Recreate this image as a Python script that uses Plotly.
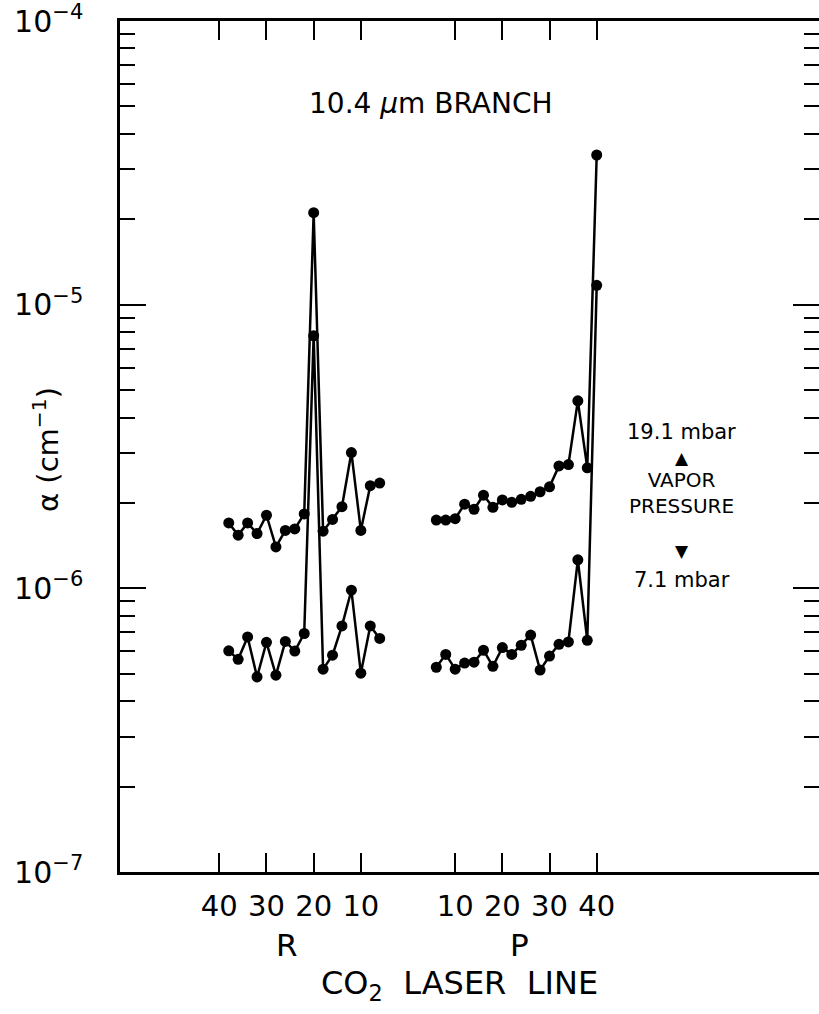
import plotly.graph_objects as go

# CO2 laser lines (10.4 um branch)
r_lines = [38, 36, 34, 32, 30, 28, 26, 24, 22, 20, 18, 16, 14, 12, 10, 8, 6]
p_lines = [6, 8, 10, 12, 14, 16, 18, 20, 22, 24, 26, 28, 30, 32, 34, 36, 38, 40]

# absorption coefficient alpha (cm^-1), 19.1 mbar
upper_r = [1.70e-6, 1.54e-6, 1.70e-6, 1.56e-6, 1.81e-6, 1.40e-6, 1.60e-6, 1.62e-6, 1.83e-6,
           2.11e-5, 1.59e-6, 1.75e-6, 1.94e-6, 3.01e-6, 1.60e-6, 2.30e-6, 2.35e-6]
upper_p = [1.74e-6, 1.74e-6, 1.76e-6, 1.98e-6, 1.90e-6, 2.13e-6, 1.93e-6, 2.05e-6, 2.01e-6,
           2.06e-6, 2.11e-6, 2.19e-6, 2.28e-6, 2.70e-6, 2.73e-6, 4.58e-6, 2.66e-6, 3.37e-5]
# 7.1 mbar
lower_r = [6.02e-7, 5.62e-7, 6.74e-7, 4.87e-7, 6.45e-7, 4.94e-7, 6.50e-7, 6.01e-7, 6.93e-7,
           7.77e-6, 5.19e-7, 5.81e-7, 7.37e-7, 9.85e-7, 5.02e-7, 7.37e-7, 6.66e-7]
lower_p = [5.27e-7, 5.85e-7, 5.19e-7, 5.45e-7, 5.49e-7, 6.05e-7, 5.31e-7, 6.18e-7, 5.85e-7,
           6.30e-7, 6.84e-7, 5.15e-7, 5.77e-7, 6.35e-7, 6.47e-7, 1.26e-6, 6.56e-7, 1.17e-5]

x_tick_lines = [-40, -30, -20, -10, 10, 20, 30, 40]
x_tick_text = ["40", "30", "20", "10", "10", "20", "30", "40"]
y_major = [1e-7, 1e-6, 1e-5, 1e-4]
y_major_text = ["10<sup>−7</sup>", "10<sup>−6</sup>", "10<sup>−5</sup>", "10<sup>−4</sup>"]
y_minor = [m * 10.0 ** e for e in (-7, -6, -5) for m in range(2, 10)]

FONT = "DejaVu Sans"
fig = go.Figure()

r_x = [-j for j in r_lines]
p_x = [j for j in p_lines]
for xs, ys in ((r_x, upper_r), (r_x, lower_r), (p_x, upper_p), (p_x, lower_p)):
    fig.add_trace(go.Scatter(
        x=xs, y=ys, mode="lines+markers",
        line=dict(color="black", width=2.5),
        marker=dict(color="black", size=11),
        showlegend=False, hoverinfo="skip"))

fig.update_layout(
    width=819, height=1014,
    margin=dict(l=120, r=0, t=21, b=142, autoexpand=False),
    paper_bgcolor="white", plot_bgcolor="white",
    font=dict(family=FONT, color="black"),
    showlegend=False,
)

fig.update_xaxes(
    range=[-61.05, 87.12], automargin=False, ticklabeloverflow="allow",
    tickmode="array", tickvals=x_tick_lines, ticktext=x_tick_text,
    ticks="inside", ticklen=19, tickwidth=2.2, tickcolor="black",
    showline=True, linecolor="black", linewidth=2.5, mirror="allticks",
    showgrid=False, zeroline=False,
    tickfont=dict(size=29, family=FONT), ticklabelstandoff=6,
)
fig.update_yaxes(
    type="log", range=[-7, -4], automargin=False, ticklabeloverflow="allow",
    tickmode="array", tickvals=y_major, ticktext=y_major_text,
    ticks="inside", ticklen=26, tickwidth=2.2, tickcolor="black",
    minor=dict(tickmode="array", tickvals=y_minor, ticks="inside", ticklen=15,
               tickwidth=2.2, tickcolor="black", showgrid=False),
    showline=True, linecolor="black", linewidth=2.5, mirror="allticks",
    showgrid=False, zeroline=False,
    tickfont=dict(size=30, family=FONT), ticklabelstandoff=28,
)

H = 851.0
W = 699.0
def py(ypx):
    return (872.0 - ypx) / H

# y-axis title
fig.add_annotation(text="α (cm<sup>−1</sup>)", x=(46 - 120) / W, y=py(450),
                   xref="paper", yref="paper", textangle=-90, showarrow=False,
                   xanchor="center", yanchor="middle",
                   font=dict(size=29, family=FONT, color="black"))

annots = [
    ("10.4 <i>μ</i>m BRANCH", 4.8, py(104), 28),
    ("R", -25.6, py(945), 31),
    ("P", 23.7, py(945), 31),
    ("CO<sub>2</sub>  LASER  LINE", 11.0, py(985), 32),
    ("19.1 mbar", 58.0, py(432), 21),
    ("▲", 58.0, py(458), 17),
    ("VAPOR<br>PRESSURE", 58.0, py(493), 20),
    ("▼", 58.0, py(551), 17),
    ("7.1 mbar", 58.0, py(580), 21),
]
for text, xv, yv, size in annots:
    fig.add_annotation(text=text, x=xv, y=yv, xref="x", yref="paper",
                       showarrow=False, xanchor="center", yanchor="middle",
                       font=dict(size=size, family=FONT, color="black"))

fig.write_html("out.html")
